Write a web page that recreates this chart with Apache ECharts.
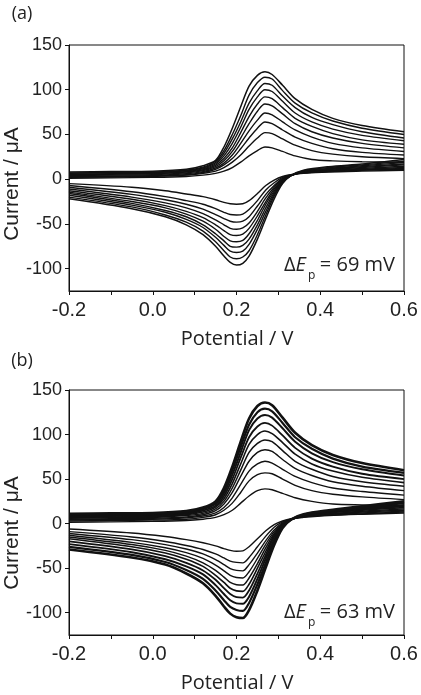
<!DOCTYPE html>
<html>
<head>
<meta charset="utf-8">
<script src="https://cdn.jsdelivr.net/npm/echarts@6/dist/echarts.min.js"></script>
<style>
html,body{margin:0;padding:0;background:#fff;}
#chart{width:421px;height:695px;}
</style>
</head>
<body>
<div id="chart"></div>
<script>
// Potential (V) sampling of forward (anodic) and reverse (cathodic) sweeps
const fwdPotential = [-0.2, -0.1, 0.0, 0.08, 0.12, 0.15, 0.17, 0.19, 0.21, 0.23, 0.25, 0.268, 0.285, 0.31, 0.34, 0.38, 0.43, 0.5, 0.6];
const revPotential = [0.6, 0.5, 0.42, 0.36, 0.33, 0.31, 0.29, 0.27, 0.25, 0.23, 0.215, 0.2, 0.185, 0.17, 0.15, 0.12, 0.08, 0.03, -0.05, -0.2];

// Panel (a): current (µA), 10 scans
const aForward = [
  [1, 1.5, 2, 3, 4.5, 6.5, 9, 13, 19, 26, 32, 36, 35, 31, 26, 22, 20.5, 19.5, 19],
  [2, 2.5, 3, 4.5, 6.5, 9, 13, 19, 27, 37, 46, 52, 51, 45, 38, 32, 28, 25, 23],
  [2.5, 3, 3.5, 5, 7.5, 11, 16, 23, 34, 46, 57, 64, 62, 55, 47, 40, 34, 30, 27],
  [3, 3.5, 4, 6, 8.5, 12.5, 18, 27, 40, 54, 66, 74, 72, 64, 55, 47, 40, 35, 31],
  [4, 4.5, 5, 7, 9.5, 14, 20.5, 31, 46, 62, 76, 84, 82, 73, 62, 53, 46, 40, 35],
  [5, 5.5, 6, 8, 10.5, 15.5, 23, 35, 52, 70, 84, 92, 90, 80, 68, 59, 51, 44, 39],
  [5.5, 6, 6.5, 8.5, 11.5, 17, 26, 40, 58, 78, 92, 100, 98, 87, 74, 64, 56, 49, 43],
  [6.5, 7, 7.5, 9.5, 12.5, 18.5, 29, 45, 64, 85, 99, 107, 105, 93, 80, 69, 61, 53, 46],
  [7, 7.5, 8, 10, 13.5, 20, 32, 50, 71, 94, 108, 114, 112, 99, 85, 74, 65, 57, 50],
  [8, 8.5, 9, 11, 15, 21, 36, 57, 81, 104, 116, 120, 117, 105, 90, 78, 68, 60, 53]
];
const aReverse = [
  [10, 9, 8, 6.5, 5, 3, -1, -7, -16, -24, -27.5, -28, -27.5, -26, -23, -19.5, -16.5, -13, -9, -5],
  [11, 10, 8.5, 7, 5, 2, -4, -12, -24, -34, -39, -40, -39.5, -37, -33, -28, -24, -19.5, -14, -7],
  [12, 10.5, 9, 7, 4.5, 1, -7, -17, -30, -42, -47, -48, -47, -44, -39.5, -33.5, -28, -23, -17, -9],
  [13, 11, 9.5, 7.5, 4.5, 0, -9, -21, -36, -49, -54.5, -56, -55, -51, -45.5, -38.5, -32, -26.5, -20, -11],
  [14.5, 12, 10, 8, 4, -1, -11, -25, -41, -55, -61.5, -63, -62, -57.5, -51, -43, -36, -29.5, -22.5, -13],
  [16, 13, 11, 8, 4, -1.5, -13, -28, -46, -61, -68.5, -70, -69, -64, -56, -47, -39, -32, -25, -14.5],
  [17, 14, 11.5, 8.5, 4, -2, -15, -32, -51, -67, -74, -76, -75, -69, -61, -51, -42, -35, -27, -16],
  [18.5, 15, 12, 9, 4, -3, -17, -36, -56, -73, -80.5, -82, -80.5, -74, -65, -54, -45, -37, -29, -18],
  [20, 16, 13, 9.5, 4, -4, -19, -40, -62, -80, -87, -89, -87, -80, -70, -58, -48, -40, -31, -20],
  [22, 17, 14, 10, 4, -5, -22, -44, -67, -86, -94, -96, -93, -86, -75, -62, -51, -42, -33, -22]
];

// Panel (b): current (µA), 10 scans
const bForward = [
  [1.5, 2, 2.5, 3.5, 5, 7, 10, 15, 23, 31, 37, 39, 38, 34, 29, 25, 22, 21, 20],
  [3, 3.5, 4, 5, 7, 10, 15, 23, 35, 48, 55, 57, 56, 50, 43, 37, 33, 30, 27],
  [4, 4.5, 5, 6.5, 8.5, 12, 18, 29, 44, 59, 67, 70, 68, 61, 53, 46, 40, 36, 32],
  [5, 5.5, 6, 7.5, 10, 14.5, 22, 35, 53, 70, 80, 83, 81, 72, 62, 54, 47, 42, 37],
  [6, 6.5, 7, 9, 11.5, 16.5, 25, 40, 60, 80, 90, 94, 92, 82, 70, 61, 53, 47, 42],
  [7, 7.5, 8, 10, 13, 18.5, 28, 45, 67, 89, 100, 104, 101, 91, 78, 67, 59, 52, 46],
  [8, 8.5, 9, 11, 14.5, 20, 31, 50, 74, 97, 109, 113, 110, 99, 85, 73, 64, 56, 50],
  [9, 9.5, 10, 12, 16, 22, 34, 55, 80, 105, 118, 122, 119, 107, 92, 79, 69, 61, 54],
  [10, 10.5, 11, 13, 17, 24, 37, 60, 86, 111, 125, 129, 126, 113, 97, 84, 73, 64, 57],
  [11, 11.5, 12, 14, 18, 25, 40, 64, 92, 118, 132, 136, 133, 119, 102, 88, 77, 68, 60]
];
const bReverse = [
  [12, 10.5, 9, 7, 5.5, 3, -1, -8, -17, -26, -30.5, -31, -30, -28, -25, -21.5, -18, -14.5, -10.5, -6],
  [13, 11, 9.5, 7.5, 5, 2, -4, -14, -26, -38, -44, -43.5, -42, -38.5, -34, -29, -24.5, -20, -15, -9],
  [14, 12, 10, 8, 5, 1, -7, -19, -33, -46, -53, -52.5, -50.5, -46, -40.5, -34, -28.5, -23.5, -18, -11],
  [15, 13, 10.5, 8, 4.5, 0, -9, -23, -39, -54, -61, -60.5, -58, -53, -46.5, -39, -32.5, -27, -21, -13],
  [16.5, 14, 11, 8.5, 4.5, -1, -11, -27, -45, -61, -69, -68.5, -66, -60, -52.5, -44, -36.5, -30, -23.5, -15],
  [18, 15, 12, 9, 4.5, -1.5, -13, -31, -50, -68, -76, -75.5, -72.5, -66, -58, -48, -40, -33, -26, -17],
  [19.5, 16, 12.5, 9, 4.5, -2, -15, -35, -56, -75, -83, -82.5, -79, -72.5, -63, -52.5, -44, -36.5, -29, -20],
  [21, 17, 13.5, 9.5, 4.5, -3, -18, -39, -62, -82, -90, -89.5, -86, -79, -69, -57, -48, -40, -32, -23],
  [23, 18, 14, 10, 4.5, -4, -21, -44, -68, -89, -98, -97, -93.5, -86, -75, -62, -52, -43, -35, -26],
  [25, 19.5, 15, 10.5, 4.5, -5, -24, -49, -75, -97, -106, -105, -101, -93, -81, -67, -56, -46, -38, -29]
];

const yTickValues = [-100, -50, 0, 50, 100, 150];
const panelLabels = ['(a)', '(b)'];
const deltaLabels = ['69 mV', '63 mV'];

const chart = echarts.init(document.getElementById('chart'), null, {renderer: 'canvas'});

const gridTops = [45, 390];
const gridHeights = [246, 245];

function xAxisCfg(i) {
  return {
    type: 'value', gridIndex: i, min: -0.2, max: 0.6, interval: 0.2,
    axisLine: {show: true, onZero: false, lineStyle: {color: '#111', width: 1}},
    axisTick: {show: true, length: 4, lineStyle: {color: '#111', width: 1}},
    minorTick: {show: true, splitNumber: 2, length: 4, lineStyle: {color: '#111', width: 1}},
    splitLine: {show: false},
    axisLabel: {
      show: true, margin: 9, color: '#222', fontSize: 20, fontFamily: 'Liberation Sans',
      showMinLabel: true, showMaxLabel: true,
      formatter: v => (Math.abs(v) < 1e-9 ? 0 : v).toFixed(1)
    }
  };
}
function yAxisCfg(i) {
  return {
    type: 'value', gridIndex: i, min: -125, max: 150, interval: 25,
    axisLine: {show: true, onZero: false, lineStyle: {color: '#111', width: 1}},
    axisTick: {show: true, length: 4, customValues: yTickValues, lineStyle: {color: '#111', width: 1}},
    splitLine: {show: false},
    axisLabel: {show: true, margin: 7, color: '#222', fontSize: 18, fontFamily: 'Liberation Sans', customValues: yTickValues}
  };
}

const series = [];
function addBranch(idx, potentials, values, width) {
  series.push({
    type: 'line', xAxisIndex: idx, yAxisIndex: idx,
    data: potentials.map((e, j) => [e, values[j]]),
    showSymbol: false, symbol: 'none', smooth: 0.3, smoothMonotone: null,
    lineStyle: {color: '#111', width: width}, silent: true, animation: false
  });
}
function addPanel(idx, fwd, rev, widths) {
  for (let k = 0; k < fwd.length; k++) {
    addBranch(idx, fwdPotential, fwd[k], widths[k]);
    addBranch(idx, revPotential, rev[k], widths[k]);
  }
}
addPanel(0, aForward, aReverse, [1.4,1.4,1.4,1.4,1.4,1.4,1.4,1.4,1.4,1.5]);
addPanel(1, bForward, bReverse, [1.4,1.4,1.4,1.4,1.5,1.6,1.8,2.0,2.2,2.6]);

const graphics = [];
[0, 1].forEach(i => {
  const top = gridTops[i];
  const off = i === 0 ? 0 : 347;
  graphics.push({type: 'text', x: 22, y: 14 + off, style: {text: panelLabels[i], font: '18px "Open Sans"', fill: '#222', align: 'center', verticalAlign: 'middle'}});
  graphics.push({type: 'text', x: 12, y: top + 139 + (i === 0 ? 0 : 4), rotation: Math.PI / 2, style: {text: 'Current / μA', font: '21px "Liberation Sans"', fill: '#222', align: 'center', verticalAlign: 'middle'}});
  graphics.push({type: 'text', x: 237, y: top + gridHeights[i] + 48, style: {text: 'Potential / V', font: '20px "Open Sans"', fill: '#222', align: 'center', verticalAlign: 'middle'}});
  const base = i === 0 ? 275 : 622;
  graphics.push({type: 'text', x: 284, y: base, style: {text: '{n|Δ}{e|E}', fill: '#222', align: 'left', verticalAlign: 'bottom',
    rich: {n: {font: '20px "Open Sans"', fill: '#222'}, e: {font: 'italic 20px "Open Sans"', fill: '#222'}}}});
  graphics.push({type: 'text', x: 308, y: base + 7, style: {text: 'p', font: '12px "Open Sans"', fill: '#222', align: 'left', verticalAlign: 'bottom'}});
  graphics.push({type: 'text', x: 395, y: base, style: {text: '= ' + deltaLabels[i], font: '20px "Open Sans"', fill: '#222', align: 'right', verticalAlign: 'bottom'}});
});

chart.setOption({
  animation: false,
  backgroundColor: '#fff',
  grid: [
    {left: 69, top: gridTops[0], width: 335, height: gridHeights[0], show: true, borderColor: '#111', borderWidth: 1, containLabel: false},
    {left: 69, top: gridTops[1], width: 335, height: gridHeights[1], show: true, borderColor: '#111', borderWidth: 1, containLabel: false}
  ],
  xAxis: [xAxisCfg(0), xAxisCfg(1)],
  yAxis: [yAxisCfg(0), yAxisCfg(1)],
  series: series,
  graphic: graphics
});
</script>
</body>
</html>
